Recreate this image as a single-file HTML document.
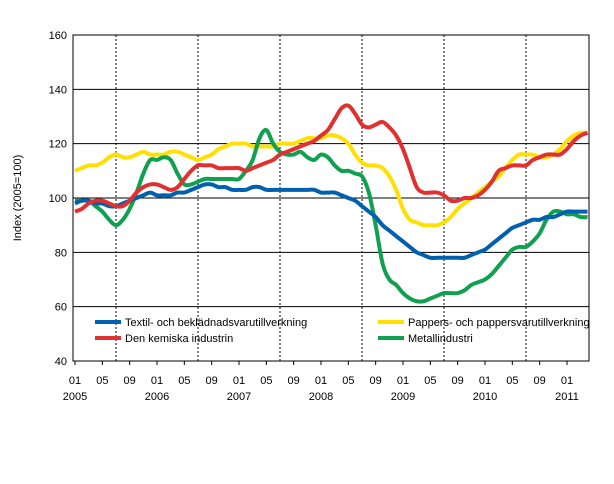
<!DOCTYPE html>
<html><head><meta charset="utf-8"><style>
body{margin:0;background:#fff;font-family:"Liberation Sans",sans-serif}
svg text{font-family:"Liberation Sans",sans-serif;font-size:11px;fill:#000}
</style></head><body>
<svg width="614" height="479" id="c"></svg>
<script>
const yTicks=[40,60,80,100,120,140,160];
const xLabels=["01","05","09","01","05","09","01","05","09","01","05","09","01","05","09","01","05","09","01"];
const yearLabels=["2005","2006","2007","2008","2009","2010","2011"];
const textil=[98,99,99,98,98,97,97,98,99,100,101,102,101,101,101,102,102,103,104,105,105,104,104,103,103,103,104,104,103,103,103,103,103,103,103,103,102,102,102,101,100,99,97,95,93,90,88,86,84,82,80,79,78,78,78,78,78,78,79,80,81,83,85,87,89,90,91,92,92,93,93,94,95,95,95,95];
const pappers=[110,111,112,112,113,115,116,115,115,116,117,116,116,116,117,117,116,115,114,115,116,118,119,120,120,120,119,119,119,119,120,120,120,121,122,122,122,123,123,122,120,116,113,112,112,111,108,103,96,92,91,90,90,90,91,93,96,98,100,102,104,106,108,111,114,116,116,116,115,115,116,118,121,123,124,124];
const kemi=[95,96,98,99,99,98,97,97,99,102,104,105,105,104,103,104,107,110,112,112,112,111,111,111,111,110,111,112,113,114,116,117,118,119,120,121,123,125,129,133,134,131,127,126,127,128,126,123,118,111,104,102,102,102,101,99,99,100,100,101,103,106,110,111,112,112,112,114,115,116,116,116,118,121,123,124];
const metall=[99,99,99,97,95,92,90,92,96,102,109,114,114,115,114,109,105,105,106,107,107,107,107,107,107,110,114,122,125,120,117,116,116,117,115,114,116,115,112,110,110,109,108,102,90,76,70,68,65,63,62,62,63,64,65,65,65,66,68,69,70,72,75,78,81,82,82,84,87,92,95,95,94,94,93,93];
const seriesNames=["Textil- och beklädnadsvarutillverkning","Pappers- och pappersvarutillverkning","Den kemiska industrin","Metallindustri"];
const L=73,R=589,T=35,B=361;
const x=i=>75+i*82/12, y=v=>B-(v-40)*(B-T)/120;
const s=document.getElementById('c');const ns="http://www.w3.org/2000/svg";
function mk(t,a,p){const e=document.createElementNS(ns,t);for(const k in a)e.setAttribute(k,a[k]);(p||s).appendChild(e);return e;}
function smooth(pts){let d='M'+pts[0][0]+','+pts[0][1];for(let i=0;i<pts.length-1;i++){const p0=pts[Math.max(0,i-1)],p1=pts[i],p2=pts[i+1],p3=pts[Math.min(pts.length-1,i+2)];
const c1x=p1[0]+(p2[0]-p0[0])/6,c1y=p1[1]+(p2[1]-p0[1])/6,c2x=p2[0]-(p3[0]-p1[0])/6,c2y=p2[1]-(p3[1]-p1[1])/6;d+=' C'+c1x+','+c1y+' '+c2x+','+c2y+' '+p2[0]+','+p2[1];}return d;}
yTicks.forEach(v=>{if(v>40&&v<160){const l=mk('line',{x1:L,x2:R,y1:y(v),y2:y(v),stroke:'#000','stroke-width':1});}
const t=mk('text',{x:L-6,y:y(v)+4,'text-anchor':'end'});t.textContent=v;});
for(let k=0;k<6;k++){const xv=x(6+12*k);const l=mk('line',{x1:xv,x2:xv,y1:T,y2:B,stroke:'#000','stroke-dasharray':'2,2'});}
const fr=mk('rect',{x:L,y:T,width:R-L,height:B-T,fill:'none',stroke:'#000'});
xLabels.forEach((lb,i)=>{const t=mk('text',{x:x(i*4),y:384,'text-anchor':'middle'});t.textContent=lb;
const tk=mk('line',{x1:x(i*4),x2:x(i*4),y1:B,y2:B+4,stroke:'#000'});});
yearLabels.forEach((lb,i)=>{const t=mk('text',{x:x(i*12),y:400,'text-anchor':'middle'});t.textContent=lb;});
const yt=mk('text',{x:21,y:198,'text-anchor':'middle',transform:'rotate(-90 21 198)'});yt.textContent='Index (2005=100)';
const all=[[textil,'#0060b0'],[pappers,'#ffe000'],[kemi,'#e03030'],[metall,'#10a050']];
const order=[1,3,0,2];
order.forEach(k=>{const [d,c]=all[k];const p=mk('path',{d:smooth(d.map((v,i)=>[x(i),y(v)])),fill:'none',stroke:c,'stroke-width':4,'stroke-linejoin':'round'});});
const lp=[[95,322],[378,322],[95,338],[378,338]];
all.forEach(([d,c],k)=>{const g=mk('g',{});
mk('line',{x1:lp[k][0],x2:lp[k][0]+26,y1:lp[k][1],y2:lp[k][1],stroke:c,'stroke-width':4},g);
const t=mk('text',{x:lp[k][0]+30,y:lp[k][1]+4},g);t.textContent=seriesNames[k];});
</script></body></html>
